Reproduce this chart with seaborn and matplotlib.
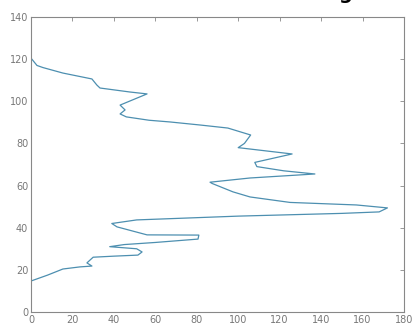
import numpy as np
import pandas as pd
import matplotlib
matplotlib.use("Agg")
import matplotlib.pyplot as plt
import seaborn as sns

# profile, in drawing order (bottom to top)
value = [0, 0, 8, 15.4, 23.6, 29.4, 27, 30, 40, 51.6, 53.6, 51, 38, 45, 60,
         80.6, 81, 56, 41.5, 39, 51, 100, 150, 168, 172, 157, 125, 105.7,
         97.5, 87.4, 86.4, 105.7, 137, 122, 109, 108, 126, 100, 103, 106,
         95, 82, 67, 57, 46, 43, 45.4, 43, 56, 47.8, 33.3, 31.8, 29.4, 15.4,
         5.8, 2.9, 0, 0]
depth = [0, 14.7, 17.5, 20.4, 21.4, 21.8, 23.3, 26, 26.5, 27, 28.5, 30, 31,
         32, 33, 34.6, 36.5, 36.6, 40.4, 42, 43.7, 45.5, 46.8, 47.5, 49.4,
         50.8, 52, 54.6, 57, 61, 61.6, 63.6, 65.5, 67, 69, 71, 75, 78, 80,
         84, 87.3, 88.7, 90.2, 91, 92.6, 94, 95.9, 98.2, 103.5, 104.4, 106.3,
         107.7, 110.6, 113.4, 116, 117, 120.5, 140]

x_ticks = [0, 20, 40, 60, 80, 100, 120, 140, 160, 180]
y_ticks = [0, 20, 40, 60, 80, 100, 120, 140]

df = pd.DataFrame({"value": value, "depth": depth})

sns.set_style("white")
fig = plt.figure(figsize=(4.12, 3.29), dpi=100)
ax = fig.add_axes([0.0752, 0.0517, 0.9054, 0.8966])

sns.lineplot(data=df, x="value", y="depth", sort=False, estimator=None,
             color="#4d8fb0", linewidth=0.9, ax=ax)

ax.set_xlim(0, 180)
ax.set_ylim(0, 140)
ax.set_xticks(x_ticks)
ax.set_yticks(y_ticks)
ax.set_xlabel("")
ax.set_ylabel("")
ax.tick_params(direction="in", length=3, width=0.6, colors="#888888",
               labelsize=7, labelcolor="#777777", top=True, right=True,
               pad=2)
for sp in ax.spines.values():
    sp.set_visible(True)
    sp.set_color("#888888")
    sp.set_linewidth(0.8)

# title cut off by the top edge, only the descender of its last letter shows
fig.text(0.82, 1.003, "g", fontsize=14, fontweight="bold", color="black",
         ha="left", va="baseline")

fig.savefig("out.png", dpi=100)
